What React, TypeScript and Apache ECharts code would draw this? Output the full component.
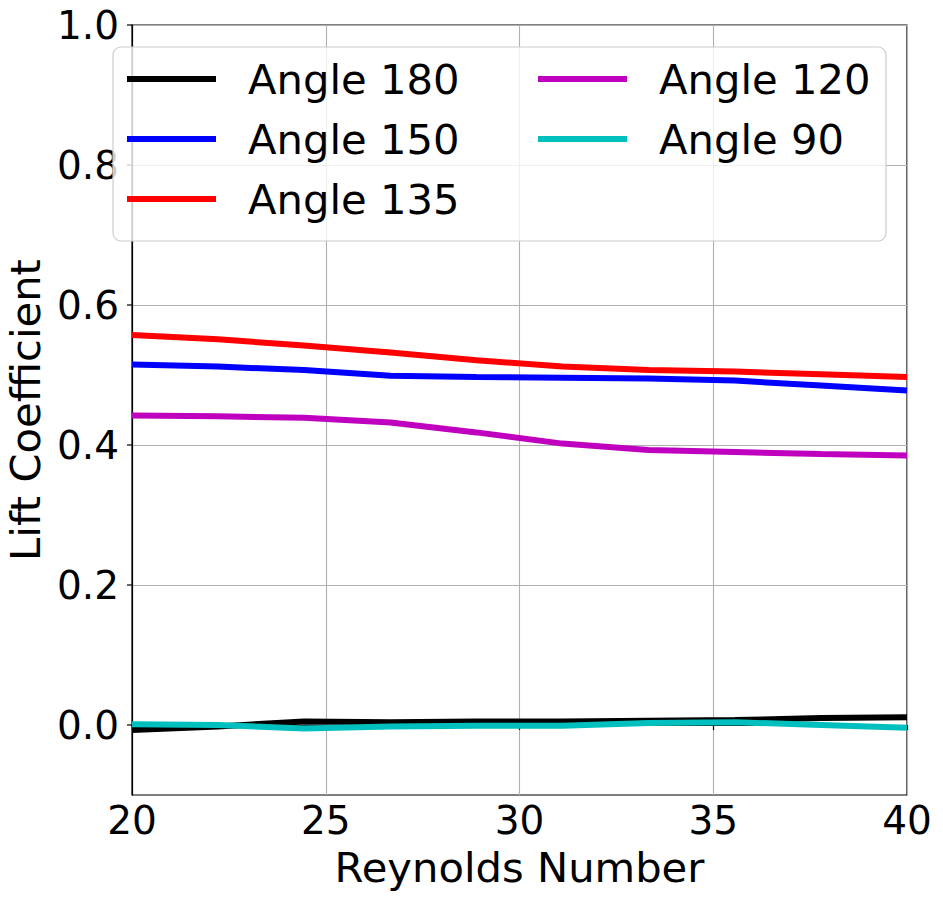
import React, { useEffect, useRef } from "react";
import * as echarts from "echarts";

const reynolds = [20, 22.22, 24.44, 26.67, 28.89, 31.11, 33.33, 35.56, 37.78, 40];
const angle180 = [-0.007, -0.002, 0.005, 0.004, 0.005, 0.005, 0.006, 0.007, 0.010, 0.011];
const angle150 = [0.515, 0.512, 0.507, 0.499, 0.497, 0.496, 0.495, 0.492, 0.485, 0.478];
const angle135 = [0.557, 0.551, 0.542, 0.532, 0.521, 0.512, 0.507, 0.505, 0.501, 0.497];
const angle120 = [0.442, 0.441, 0.439, 0.432, 0.418, 0.402, 0.393, 0.390, 0.387, 0.385];
const angle90 = [0.001, 0.0, -0.005, -0.002, -0.001, -0.001, 0.003, 0.004, 0.0, -0.004];
const yTicks = [0.0, 0.2, 0.4, 0.6, 0.8, 1.0];

const seriesDefs = [
  { name: "Angle 180", values: angle180, color: "#000000" },
  { name: "Angle 150", values: angle150, color: "#0000ff" },
  { name: "Angle 135", values: angle135, color: "#ff0000" },
  { name: "Angle 120", values: angle120, color: "#bf00bf" },
  { name: "Angle 90", values: angle90, color: "#00bfbf" },
];

const FONT = "DejaVu Sans";

export default function App() {
  const ref = useRef<HTMLDivElement>(null);
  useEffect(() => {
    if (!ref.current) return;
    const chart = echarts.init(ref.current, null, { renderer: "svg" });
    const legendCommon = {
      orient: "vertical",
      top: 58,
      padding: 0,
      itemGap: 18,
      itemWidth: 89,
      itemHeight: 6,
      icon: "rect",
      selectedMode: false,
      z: 10,
      textStyle: {
        fontFamily: FONT,
        fontSize: 41.7,
        lineHeight: 42,
        color: "#000",
        padding: [0, 0, 0, 27],
      },
    };
    chart.setOption({
      animation: false,
      backgroundColor: "#ffffff",
      textStyle: { fontFamily: FONT },
      grid: {
        left: 132,
        right: 36,
        top: 25,
        bottom: 105,
        show: true,
        borderColor: "#000",
        borderWidth: 1.2,
        backgroundColor: "transparent",
        containLabel: false,
        outerBoundsMode: "none",
      },
      legend: [
        { ...legendCommon, left: 127, data: ["Angle 180", "Angle 150", "Angle 135"] },
        { ...legendCommon, left: 538, data: ["Angle 120", "Angle 90"] },
      ],
      graphic: [
        {
          type: "rect",
          z: 9,
          shape: { x: 113, y: 47, width: 773, height: 194, r: 8 },
          style: { fill: "rgba(255,255,255,0.8)", stroke: "#cccccc", lineWidth: 1.2 },
        },
      ],
      xAxis: {
        type: "value",
        min: 20,
        max: 40,
        interval: 5,
        name: "Reynolds Number",
        nameLocation: "middle",
        nameGap: 51,
        nameTextStyle: { fontFamily: FONT, fontSize: 41.7, color: "#000" },
        axisLine: { show: true, lineStyle: { color: "#000", width: 1.2 } },
        axisTick: { show: true, length: 5, lineStyle: { color: "#000", width: 1.2 } },
        axisLabel: { fontFamily: FONT, fontSize: 39, color: "#000", margin: 6, showMinLabel: true, showMaxLabel: true },
        splitLine: { show: true, lineStyle: { color: "#b0b0b0", width: 1.1 } },
      },
      yAxis: {
        type: "value",
        min: -0.1,
        max: 1.0,
        interval: 0.1,
        name: "Lift Coefficient",
        nameLocation: "middle",
        nameGap: 80,
        nameTextStyle: { fontFamily: FONT, fontSize: 41.7, color: "#000" },
        axisLine: { show: true, lineStyle: { color: "#000", width: 1.2 } },
        axisTick: { show: false },
        axisLabel: {
          fontFamily: FONT,
          fontSize: 39,
          color: "#000",
          margin: 13,
          showMinLabel: true,
          showMaxLabel: true,
          formatter: (v: number) => {
            const k = Math.round(v * 10);
            return k % 2 === 0 ? (k / 10).toFixed(1) : "";
          },
        },
        splitLine: {
          show: true,
          showMinLine: true,
          showMaxLine: true,
          lineStyle: { color: ["rgba(0,0,0,0)", "#b0b0b0"], width: 1.1 },
        },
      },
      series: [
        ...seriesDefs.map((s) => ({
          name: s.name,
          type: "line",
          data: reynolds.map((x, i) => [x, s.values[i]]),
          showSymbol: false,
          symbol: "none",
          lineStyle: { color: s.color, width: 6 },
          itemStyle: { color: s.color },
          color: s.color,
          z: 3,
        })),
        {
          type: "custom",
          silent: true,
          clip: false,
          data: yTicks.map((v) => [20, v]),
          renderItem: (params: any, api: any) => {
            const p = api.coord([20, api.value(1)]);
            return {
              type: "line",
              shape: { x1: p[0] - 5, y1: p[1], x2: p[0], y2: p[1] },
              style: { stroke: "#000", lineWidth: 1.2 },
            };
          },
          z: 3,
        },
      ],
    });
    return () => chart.dispose();
  }, []);
  return (
    <div
      ref={ref}
      style={{ position: "absolute", left: 0, top: 0, width: 943, height: 900 }}
    />
  );
}
